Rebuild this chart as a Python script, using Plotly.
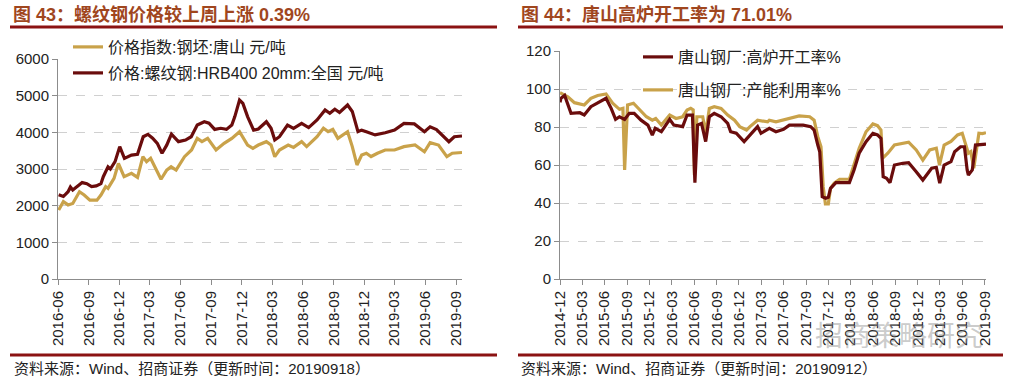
import plotly.graph_objects as go

# ---------------- Left chart data (元/吨) ----------------
rebar_dates = ["2016-06-03","2016-06-17","2016-07-01","2016-07-08","2016-07-15","2016-07-29","2016-08-12","2016-08-26",
               "2016-09-09","2016-09-23","2016-10-07","2016-10-14","2016-10-28","2016-11-04","2016-11-18","2016-12-02",
               "2016-12-16","2017-01-06","2017-01-24","2017-02-10","2017-02-24","2017-03-10","2017-03-24","2017-04-07",
               "2017-04-21","2017-05-05","2017-05-26","2017-06-16","2017-07-03","2017-07-21","2017-08-11","2017-08-25",
               "2017-09-11","2017-09-29","2017-10-16","2017-11-01","2017-11-10","2017-11-24","2017-12-04","2017-12-18",
               "2018-01-05","2018-01-19","2018-02-12","2018-02-26","2018-03-09","2018-03-23","2018-04-16","2018-05-04",
               "2018-05-28","2018-06-18","2018-07-13","2018-08-06","2018-08-20","2018-09-04","2018-09-18","2018-10-12",
               "2018-10-26","2018-11-12","2018-11-23","2018-12-07","2019-01-02","2019-02-01","2019-03-01","2019-03-29",
               "2019-04-29","2019-05-29","2019-06-15","2019-07-04","2019-07-25","2019-08-10","2019-08-26","2019-09-18"]
rebar_vals = [2300,2250,2380,2510,2430,2540,2630,2600,
              2520,2540,2600,2790,3060,3000,3200,3610,
              3290,3380,3400,3880,3945,3840,3700,3430,
              3650,3950,3745,3790,3880,4200,4290,4250,
              4080,4110,4080,4200,4430,4880,4790,4430,
              4060,4090,4290,4110,3790,3880,4200,4110,
              4245,4130,4336,4610,4520,4630,4540,4745,
              4570,4020,4060,4015,3930,3990,4060,4245,
              4230,4015,4150,4075,3880,3745,3880,3900]

billet_dates = ["2016-06-03","2016-06-17","2016-07-01","2016-07-15","2016-08-04","2016-08-18","2016-09-04","2016-09-25",
                "2016-10-07","2016-10-21","2016-10-28","2016-11-15","2016-11-28","2016-12-15","2017-01-06","2017-01-24",
                "2017-02-09","2017-02-20","2017-03-04","2017-03-17","2017-04-04","2017-04-21","2017-05-04","2017-05-19",
                "2017-06-13","2017-07-04","2017-07-21","2017-08-04","2017-08-21","2017-09-15","2017-10-09","2017-11-01",
                "2017-11-24","2017-12-18","2018-01-03","2018-01-19","2018-02-12","2018-02-26","2018-03-09","2018-03-23",
                "2018-04-18","2018-05-04","2018-05-28","2018-06-12","2018-07-13","2018-08-01","2018-08-15","2018-08-29",
                "2018-09-13","2018-10-12","2018-10-26","2018-11-09","2018-11-23","2018-12-07","2018-12-21","2019-01-09",
                "2019-02-01","2019-03-01","2019-03-29","2019-05-01","2019-05-29","2019-06-15","2019-07-10","2019-08-04",
                "2019-08-20","2019-09-18"]
billet_vals = [1880,2110,2020,2060,2380,2290,2150,2150,
               2290,2520,2470,2745,3150,2790,2880,2770,
               3336,3200,3290,3060,2720,2970,3060,2970,
               3336,3518,3836,3745,3836,3518,3700,3836,
               4017,3654,3563,3654,3745,3654,3336,3518,
               3654,3590,3745,3610,3880,4110,4020,4080,
               3836,4017,3610,3110,3380,3430,3340,3430,
               3518,3518,3610,3654,3470,3718,3654,3336,
               3430,3450]

# ---------------- Right chart data (%) ----------------
bf_dates = ["2014-12-01","2014-12-05","2014-12-20","2015-01-15","2015-02-20","2015-03-10","2015-04-06","2015-05-04",
            "2015-06-07","2015-06-28","2015-07-16","2015-08-01","2015-08-22","2015-09-10","2015-09-30","2015-10-28",
            "2015-11-25","2015-12-13","2015-12-25","2016-01-19","2016-02-22","2016-03-10","2016-04-15","2016-05-03",
            "2016-05-25","2016-06-04","2016-06-15","2016-07-01","2016-07-18","2016-08-02","2016-08-22","2016-09-19",
            "2016-10-16","2016-10-28","2016-11-20","2016-12-22","2017-01-15","2017-02-15","2017-03-01","2017-03-28",
            "2017-04-04","2017-05-01","2017-06-01","2017-06-25","2017-08-20","2017-09-20","2017-10-04","2017-10-19",
            "2017-10-27","2017-11-06","2017-11-20","2017-12-01","2017-12-10","2018-01-01","2018-02-25","2018-03-16",
            "2018-04-06","2018-05-04","2018-06-01","2018-06-20","2018-07-04","2018-07-13","2018-07-27","2018-08-10",
            "2018-08-28","2018-10-01","2018-10-25","2018-11-25","2018-12-22","2019-01-27","2019-02-15","2019-03-01",
            "2019-03-19","2019-04-16","2019-05-01","2019-05-25","2019-06-10","2019-06-21","2019-06-26","2019-07-12",
            "2019-07-25","2019-09-06"]
bf_vals = [93.0,95.1,96.6,87.2,87.5,86.3,90.7,92.5,
           95.1,89.8,84.0,85.4,84.0,87.2,87.2,83.6,
           81.0,75.8,79.3,77.5,84.0,81.0,80.2,86.3,
           86.3,50.7,81.0,81.9,72.3,85.4,87.2,85.4,
           81.9,77.5,76.7,72.3,75.8,80.2,76.7,78.4,
           79.3,77.5,78.8,81.0,81.0,80.2,78.4,70.5,
           66.9,43.3,42.5,43.0,47.7,50.7,50.7,57.4,
           66.2,72.3,76.7,75.8,74.0,53.8,53.0,50.7,
           60.0,60.9,61.2,56.5,52.1,58.3,58.8,50.4,
           60.0,61.8,67.0,69.6,69.6,57.4,54.7,57.4,
           70.5,71.0]

util_dates = ["2014-12-01","2015-01-02","2015-01-29","2015-03-10","2015-04-06","2015-05-04","2015-06-07","2015-07-04",
              "2015-08-01","2015-08-15","2015-08-22","2015-09-03","2015-09-27","2015-10-22","2015-11-19","2015-12-13",
              "2015-12-27","2016-01-19","2016-02-22","2016-03-19","2016-04-15","2016-05-03","2016-05-18","2016-05-28",
              "2016-06-02","2016-06-12","2016-07-06","2016-07-18","2016-08-02","2016-08-22","2016-09-19","2016-10-16",
              "2016-11-13","2016-12-04","2017-01-01","2017-01-15","2017-02-15","2017-03-28","2017-04-04","2017-05-01",
              "2017-06-10","2017-08-04","2017-09-16","2017-10-04","2017-10-19","2017-11-01","2017-11-10","2017-11-19",
              "2017-12-01","2017-12-10","2017-12-25","2018-01-16","2018-02-25","2018-03-16","2018-04-06","2018-05-04",
              "2018-06-01","2018-06-20","2018-07-04","2018-07-10","2018-08-01","2018-08-28","2018-10-01","2018-10-25",
              "2018-11-25","2018-12-22","2019-01-19","2019-02-15","2019-02-28","2019-03-19","2019-04-16","2019-05-13",
              "2019-06-01","2019-06-12","2019-06-26","2019-07-06","2019-07-18","2019-08-08","2019-08-22","2019-09-06"]
util_vals = [98.0,95.9,92.8,91.6,95.1,96.6,97.4,92.5,
             89.3,89.8,57.4,91.6,92.5,88.9,85.4,83.6,
             84.5,81.0,86.3,84.5,85.4,88.9,89.8,89.0,
             54.7,85.4,85.4,76.7,89.8,90.7,89.8,86.3,
             83.6,80.2,78.4,80.2,83.6,82.7,83.6,82.7,
             84.0,85.8,85.4,83.6,74.9,69.6,48.6,39.5,
             39.5,47.7,50.4,52.5,52.5,60.9,68.8,77.5,
             81.6,80.7,78.4,63.5,66.2,70.5,71.6,72.0,
             67.9,62.6,67.9,68.8,60.0,70.5,72.4,75.8,
             76.7,72.4,66.2,67.0,58.3,76.7,76.5,77.0]

left_ticks = ["2016-06-01","2016-09-01","2016-12-01","2017-03-01","2017-06-01","2017-09-01","2017-12-01",
              "2018-03-01","2018-06-01","2018-09-01","2018-12-01","2019-03-01","2019-06-01","2019-09-01"]
right_ticks = ["2014-12-01","2015-03-01","2015-06-01","2015-09-01","2015-12-01","2016-03-01","2016-06-01",
               "2016-09-01","2016-12-01","2017-03-01","2017-06-01","2017-09-01","2017-12-01","2018-03-01",
               "2018-06-01","2018-09-01","2018-12-01","2019-03-01","2019-06-01","2019-09-01"]

GOLD = "#C9A24A"
DRED = "#6A0C0C"
W, H = 1016, 386
FONT = "Liberation Sans, Arial, Noto Sans CJK SC, sans-serif"

def px(x): return x / W
def py(y): return 1 - y / H

fig = go.Figure()
fig.add_trace(go.Scatter(x=billet_dates, y=billet_vals, mode="lines", name="价格指数:钢坯:唐山 元/吨",
                         line=dict(color=GOLD, width=3.2), xaxis="x", yaxis="y", legend="legend"))
fig.add_trace(go.Scatter(x=rebar_dates, y=rebar_vals, mode="lines", name="价格:螺纹钢:HRB400 20mm:全国 元/吨",
                         line=dict(color=DRED, width=3.2), xaxis="x", yaxis="y", legend="legend2"))
fig.add_trace(go.Scatter(x=util_dates, y=util_vals, mode="lines", name="唐山钢厂:产能利用率%",
                         line=dict(color=GOLD, width=3.2), xaxis="x2", yaxis="y2", legend="legend4"))
fig.add_trace(go.Scatter(x=bf_dates, y=bf_vals, mode="lines", name="唐山钢厂:高炉开工率%",
                         line=dict(color=DRED, width=3.2), xaxis="x2", yaxis="y2", legend="legend3"))

axis_common = dict(showline=True, linecolor="#8C8C8C", linewidth=1, ticks="outside", tickcolor="#8C8C8C",
                   ticklen=5, tickfont=dict(size=15, color="#222", family=FONT), zeroline=False, automargin=False)

def leg(x, y):
    return dict(x=px(x), y=py(y), xanchor="left", yanchor="middle", bgcolor="rgba(0,0,0,0)",
                font=dict(size=16, color="#222", family=FONT), borderwidth=0, tracegroupgap=0)

fig.update_layout(
    width=W, height=H, margin=dict(l=0, r=0, t=0, b=0, autoexpand=False),
    paper_bgcolor="white", plot_bgcolor="white", showlegend=True,
    font=dict(family=FONT),
    xaxis=dict(domain=[px(58), px(462)], type="date", range=["2016-06-01", "2019-09-18"],
               tickvals=left_ticks, tickformat="%Y-%m", tickangle=-90, showgrid=False, anchor="y", **axis_common),
    yaxis=dict(domain=[py(279), py(59)], range=[0, 6000], dtick=1000, showgrid=True, gridcolor="#D0D0D0",
               griddash="dash", gridwidth=1, anchor="x", **axis_common),
    xaxis2=dict(domain=[px(560), px(986)], type="date", range=["2014-12-01", "2019-09-06"],
                tickvals=right_ticks, tickformat="%Y-%m", tickangle=-90, showgrid=False, anchor="y2", **axis_common),
    yaxis2=dict(domain=[py(279), py(51)], range=[0, 120], dtick=20, showgrid=True, gridcolor="#D0D0D0",
                griddash="dash", gridwidth=1, anchor="x2", **axis_common),
    legend=leg(68, 47), legend2=leg(68, 73), legend3=leg(638, 57), legend4=leg(638, 90),
)

shapes = []
for x0, x1 in [(10, 497), (518, 1003)]:
    for y in (27, 355):
        shapes.append(dict(type="line", xref="paper", yref="paper", x0=px(x0), x1=px(x1), y0=py(y), y1=py(y),
                           line=dict(color="#8B1212", width=3)))
fig.update_layout(shapes=shapes)

ann = [
    dict(text="<b>图 43：螺纹钢价格较上周上涨 0.39%</b>", x=px(11), y=py(14)),
    dict(text="<b>图 44：唐山高炉开工率为 71.01%</b>", x=px(519), y=py(14)),
]
annotations = []
for a in ann:
    annotations.append(dict(text=a["text"], x=a["x"], y=a["y"], xref="paper", yref="paper", xanchor="left",
                            yanchor="middle", showarrow=False, font=dict(size=18, color="#A0461E", family=FONT)))
for t, x in [("资料来源：Wind、招商证券（更新时间：20190918）", 12), ("资料来源：Wind、招商证券（更新时间：20190912）", 519)]:
    annotations.append(dict(text=t, x=px(x), y=py(368), xref="paper", yref="paper", xanchor="left", yanchor="middle",
                            showarrow=False, font=dict(size=15, color="#222", family=FONT)))
annotations.append(dict(text="招商策略研究", x=px(985), y=py(334), xref="paper", yref="paper", xanchor="right",
                        yanchor="middle", showarrow=False,
                        font=dict(size=28, color="rgba(140,140,140,0.45)", family="Noto Sans CJK SC")))
fig.update_layout(annotations=annotations)

# remove the browser's default 8px body margin so the figure fills the window exactly
fig.write_html("out.html", config={"displayModeBar": False},
               post_script="document.body.style.margin='0';document.body.style.padding='0';"
                           "document.documentElement.style.overflow='hidden';")
